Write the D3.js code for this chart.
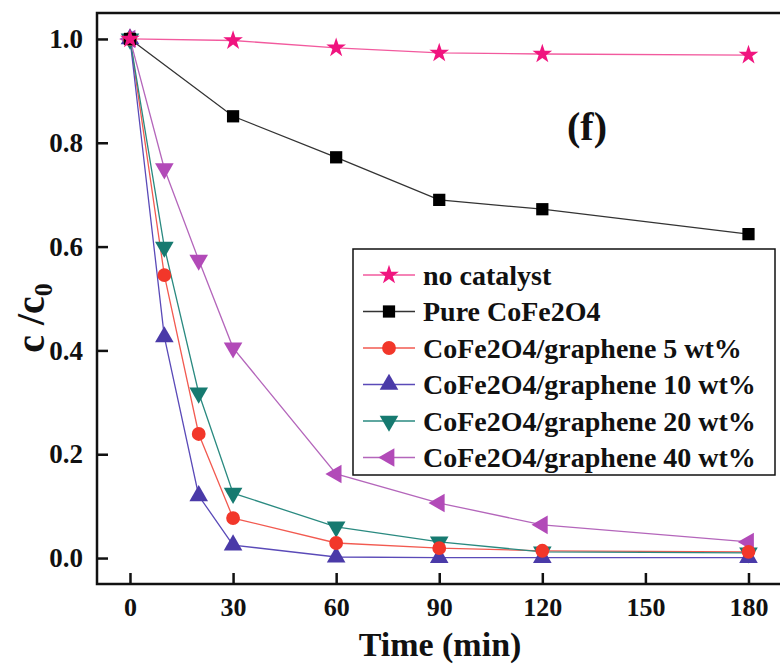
<!DOCTYPE html>
<html>
<head>
    <meta charset="utf-8">
    <title>c/c0 vs time</title>
    <script src="https://d3js.org/d3.v7.min.js"></script>
    <style>
        body { margin: 0; background: #fff; }
        text { font-family: "Liberation Serif", "Times New Roman", serif; font-weight: bold; fill: #111; }
    </style>
</head>
<body>
    <script>
        // times (min)
        const timesShort = [0, 30, 60, 90, 120, 180];
        const timesLong = [0, 10, 20, 30, 60, 90, 120, 180];

        const seriesNames = [
            "no catalyst",
            "Pure CoFe2O4",
            "CoFe2O4/graphene 5 wt%",
            "CoFe2O4/graphene 10 wt%",
            "CoFe2O4/graphene 20 wt%",
            "CoFe2O4/graphene 40 wt%"
        ];
        const noCatalyst = [1.0, 0.997, 0.983, 0.973, 0.971, 0.969];
        const pureCoFe = [1.0, 0.851, 0.772, 0.690, 0.672, 0.624];
        const gr5 = [1.0, 0.545, 0.239, 0.077, 0.029, 0.019, 0.014, 0.012];
        const gr10 = [1.0, 0.426, 0.120, 0.025, 0.002, 0.001, 0.001, 0.001];
        const gr20 = [1.0, 0.599, 0.318, 0.125, 0.060, 0.031, 0.012, 0.010];
        const gr40 = [1.0, 0.750, 0.574, 0.405, 0.162, 0.106, 0.064, 0.031];

        const xTicks = [0, 30, 60, 90, 120, 150, 180];
        const yTicks = [0.0, 0.2, 0.4, 0.6, 0.8, 1.0];

        const width = 780, height = 665;
        const svg = d3.select("body").append("svg")
            .attr("width", width)
            .attr("height", height);

        const x = d3.scaleLinear().domain([-9.6, 191.5]).range([97, 788]);
        const y = d3.scaleLinear().domain([-0.05, 1.05]).range([584, 13]);

        const series = [
            { name: seriesNames[0], t: timesShort, v: noCatalyst, color: "#f0147f", line: "#f25a9e", sym: d3.symbolStar, size: 120, rot: 0 },
            { name: seriesNames[1], t: timesShort, v: pureCoFe, color: "#000000", line: "#333333", sym: d3.symbolSquare, size: 150, rot: 0 },
            { name: seriesNames[2], t: timesLong, v: gr5, color: "#f2372a", line: "#f25a50", sym: d3.symbolCircle, size: 150, rot: 0 },
            { name: seriesNames[3], t: timesLong, v: gr10, color: "#4a3aa8", line: "#5a4ab8", sym: d3.symbolTriangle, size: 150, rot: 0 },
            { name: seriesNames[4], t: timesLong, v: gr20, color: "#167a70", line: "#2a8a80", sym: d3.symbolTriangle, size: 150, rot: 180 },
            { name: seriesNames[5], t: timesLong, v: gr40, color: "#b24ab8", line: "#b466bb", sym: d3.symbolTriangle, size: 150, rot: -90 }
        ];

        // marker rotation: 40 wt% shows down triangles for the first points
        function markerRot(s, t) {
            if (s.name === seriesNames[5] && t > 0 && t <= 30) return 180;
            return s.rot;
        }

        const line = d3.line().x(d => x(d[0])).y(d => y(d[1]));

        const plot = svg.append("g");
        series.forEach(s => {
            const pts = s.t.map((t, i) => [t, s.v[i]]);
            plot.append("path")
                .datum(pts)
                .attr("d", line)
                .attr("fill", "none")
                .attr("stroke", s.line)
                .attr("stroke-width", 1.3);
        });
        // markers drawn in reverse so the early series sit on top
        series.slice().reverse().forEach(s => {
            const pts = s.t.map((t, i) => [t, s.v[i]]);
            plot.selectAll(null)
                .data(pts)
                .enter()
                .append("path")
                .attr("d", d3.symbol().type(s.sym).size(s.size))
                .attr("transform", d => `translate(${x(d[0])},${y(d[1])}) rotate(${markerRot(s, d[0])})`)
                .attr("fill", s.color);
        });

        // frame
        svg.append("rect")
            .attr("x", 97).attr("y", 13)
            .attr("width", 700).attr("height", 571)
            .attr("fill", "none")
            .attr("stroke", "#111")
            .attr("stroke-width", 2.5);

        // axes with inward ticks
        const xAxis = svg.append("g")
            .attr("transform", "translate(0,584)")
            .call(d3.axisBottom(x).tickValues(xTicks).tickSize(-11).tickPadding(14).tickFormat(d3.format("d")));
        const yAxis = svg.append("g")
            .attr("transform", "translate(97,0)")
            .call(d3.axisLeft(y).tickValues(yTicks).tickSize(-11).tickPadding(14).tickFormat(d3.format(".1f")));
        [xAxis, yAxis].forEach(a => {
            a.select(".domain").remove();
            a.selectAll(".tick line").attr("stroke", "#111").attr("stroke-width", 2.5);
            a.selectAll(".tick text").style("font-size", "27px").attr("fill", "#111");
        });
        xAxis.selectAll(".tick text").attr("dy", "0.71em").style("font-size", "26px");

        // axis titles
        svg.append("text")
            .attr("x", 440).attr("y", 656)
            .attr("text-anchor", "middle")
            .style("font-size", "34px")
            .text("Time (min)");

        const yTitle = svg.append("text")
            .attr("transform", "translate(44,318) rotate(-90)")
            .attr("text-anchor", "middle")
            .style("font-size", "40px");
        yTitle.append("tspan").text("c /c");
        yTitle.append("tspan").attr("dy", 8).style("font-size", "26px").text("0");

        svg.append("text")
            .attr("x", 587).attr("y", 140)
            .attr("text-anchor", "middle")
            .style("font-size", "40px")
            .text("(f)");

        // legend
        const lg = svg.append("g");
        lg.append("rect")
            .attr("x", 353).attr("y", 249)
            .attr("width", 422).attr("height", 226)
            .attr("fill", "#fff")
            .attr("stroke", "#111")
            .attr("stroke-width", 1.5);
        series.forEach((s, i) => {
            const ry = 275 + i * 36.5;
            lg.append("line")
                .attr("x1", 363).attr("x2", 415)
                .attr("y1", ry).attr("y2", ry)
                .attr("stroke", s.line).attr("stroke-width", 1.3);
            lg.append("path")
                .attr("d", d3.symbol().type(s.sym).size(s.size))
                .attr("transform", `translate(389,${ry}) rotate(${s.rot})`)
                .attr("fill", s.color);
            lg.append("text")
                .attr("x", 423).attr("y", ry)
                .attr("dy", "0.35em")
                .style("font-size", "28px")
                .text(s.name);
        });
    </script>
</body>
</html>
